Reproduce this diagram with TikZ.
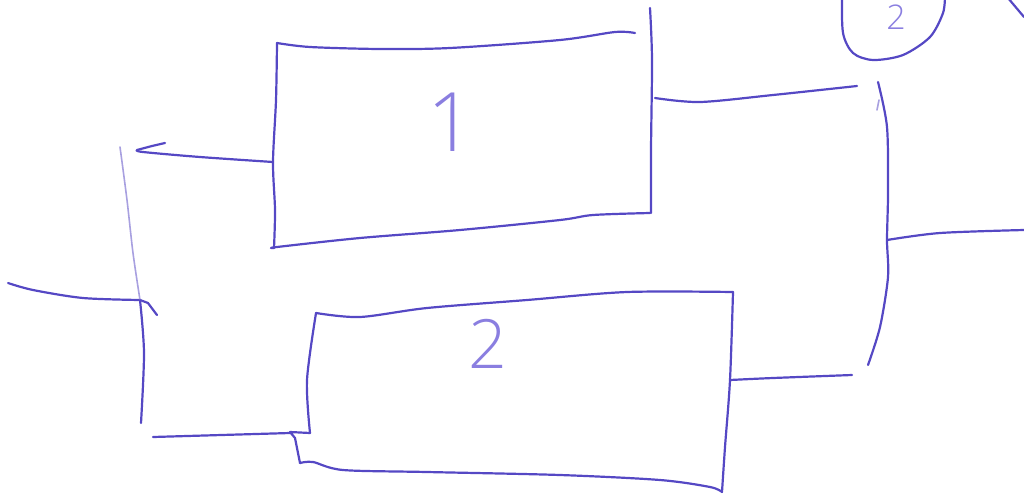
\documentclass[tikz,border=0pt]{standalone}
\usepackage{fontspec}
\newfontfamily\handfont{Open Sans}[UprightFont=* Light]
\definecolor{ink}{HTML}{5548C4}
\definecolor{inklight}{HTML}{A8A0E0}
\definecolor{digit}{HTML}{8A7EE0}
\tikzset{
  pen/.style={draw=ink, line width=2.2pt, line cap=round, line join=round},
  faintpen/.style={draw=inklight, line width=1.6pt, line cap=round, line join=round},
  digitlabel/.style={text=digit, font=\handfont, inner sep=0pt}
}
\begin{document}
\begin{tikzpicture}[x=1pt,y=-1pt]
\useasboundingbox (0,0) rectangle (1024,498);
\clip (0,0) rectangle (1024,498);
% named coordinates
\coordinate (in) at (8,283);
\coordinate (busL) at (140,300);
\coordinate (busLtop) at (120,147);
\coordinate (busLbot) at (141,423);
\coordinate (b1in) at (273,162);
\coordinate (arrowtip) at (137,150);
\coordinate (b2in) at (290,433);
\coordinate (busLfoot) at (153,437);
\coordinate (b1out) at (655,98);
\coordinate (busRtop1) at (857,86);
\coordinate (b2out) at (730,380);
\coordinate (busRbot2) at (852,375);
\coordinate (busR) at (887,240);
\coordinate (out) at (1024,230);

% box 1
\draw[pen] plot[smooth, tension=0.5] coordinates {(277,43) (276,100) (273,162) (275,210) (274,248)};
\draw[pen] plot[smooth, tension=0.5] coordinates {(277,43) (310,47) (380,49) (450,48) (560,40) (615,32) (635,33)};
\draw[pen] plot[smooth, tension=0.5] coordinates {(650,8) (652,60) (651,150) (651,213)};
\draw[pen] plot[smooth, tension=0.5] coordinates {(274,248) (277,247) (360,238) (460,230) (560,220) (593,215) (650,213)};
\node[digitlabel, font=\handfont\fontsize{82}{82}\selectfont] (one) at (451,122) {1};

% box 2
\draw[pen] plot[smooth, tension=0.5] coordinates {(310,433) (307,380) (316,313)};
\draw[pen] plot[smooth, tension=0.5] coordinates {(316,313) (360,317) (427,308) (527,300) (627,292) (733,292)};
\draw[pen] plot[smooth, tension=0.5] coordinates {(733,292) (730,380) (725,447) (722,492)};
\draw[pen] plot[smooth, tension=0.5] coordinates {(722,492) (710,487) (660,480) (560,475) (427,472) (343,470) (313,462) (300,463)};
\draw[pen] (300,463) -- (295,438) -- (290,432) -- (310,433);
\node[digitlabel, font=\handfont\fontsize{68}{68}\selectfont] (two) at (488,344) {2};

% left side
\draw[pen] plot[smooth, tension=0.5] coordinates {(in) (33,290) (83,298) (busL)};
\draw[pen] (busL) -- (148,303) -- (157,315);
\draw[faintpen] plot[smooth, tension=0.5] coordinates {(busLtop) (127,200) (133,253) (busL)};
\draw[pen] plot[smooth, tension=0.5] coordinates {(busL) (144,353) (busLbot)};
\draw[pen] plot[smooth, tension=0.5] coordinates {(b1in) (200,157) (143,152) (arrowtip)};
\draw[pen] (arrowtip) -- (152,146) -- (165,143);
\draw[pen] (busLfoot) -- (b2in);

% right side
\draw[pen] plot[smooth, tension=0.5] coordinates {(b1out) (700,102) (773,95) (busRtop1)};
\draw[pen] plot[smooth, tension=0.5] coordinates {(b2out) (773,378) (busRbot2)};
\draw[pen] plot[smooth, tension=0.5] coordinates {(878,82) (887,127) (888,193) (busR) (888,277) (880,327) (868,365)};
\draw[faintpen] (877,110) -- (879,100);
\draw[pen] plot[smooth, tension=0.5] coordinates {(busR) (940,233) (out)};

% top-right loop
\draw[pen] plot[smooth, tension=0.5] coordinates {(842,-5) (843,33) (853,53) (873,60) (903,55) (930,37) (943,13) (945,-5)};
\node[digitlabel, font=\handfont\fontsize{34}{34}\selectfont, anchor=base] (twotop) at (896,29) {2};
\draw[pen] (1008,-2) -- (1024,17);
\end{tikzpicture}
\end{document}
